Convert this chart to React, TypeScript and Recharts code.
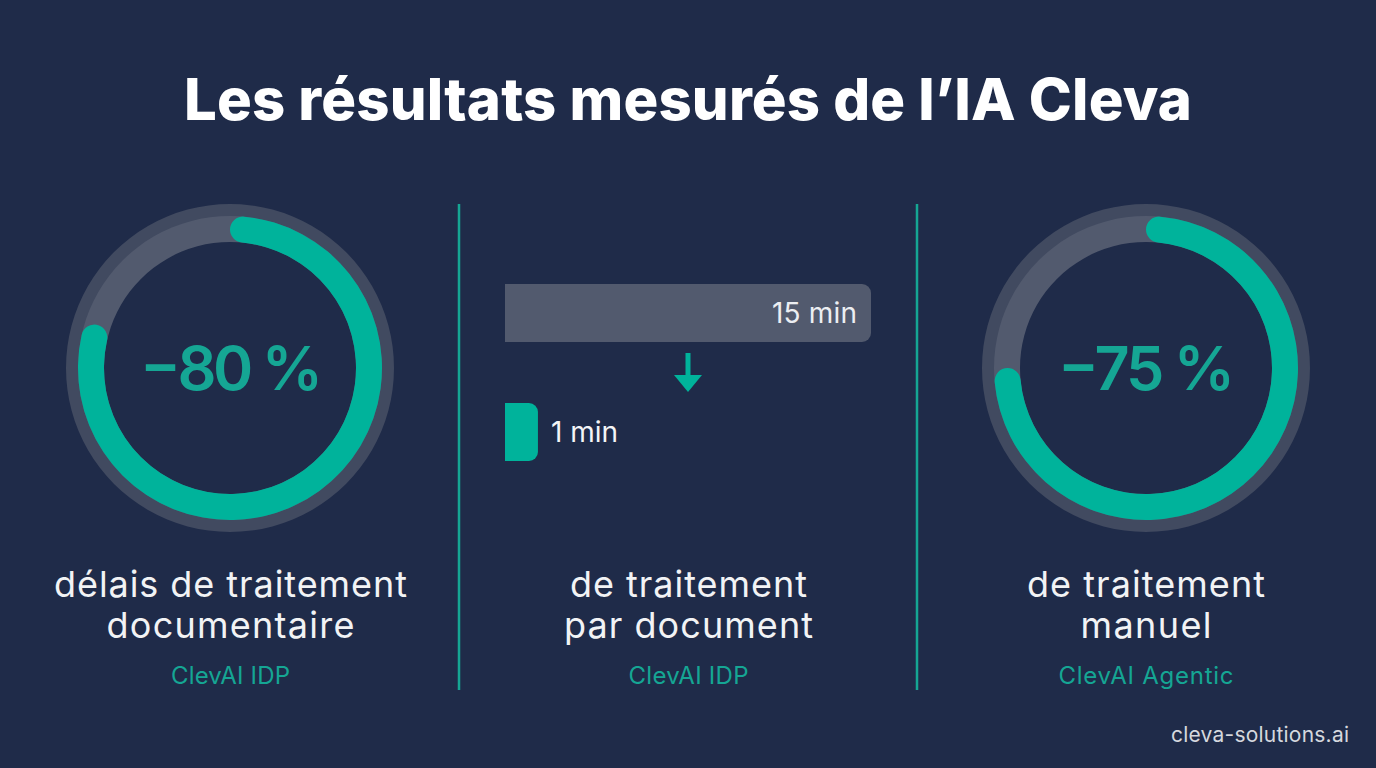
import React from "react";
import { PieChart, Pie, Cell, BarChart, Bar, XAxis, YAxis, LabelList } from "recharts";

const titleText = "Les résultats mesurés de l’IA Cleva";
const footerText = "cleva-solutions.ai";

const gaugeOneValues = [80, 20];
const gaugeTwoValues = [75, 25];
const wholeRing = [100];
const gaugeOneLabel = "−80 %";
const gaugeTwoLabel = "−75 %";

const barCategories = ["Avant", "Après"];
// Bar lengths as drawn in the picture (the picture's small bar is wider than a strict 1/15).
const barLengths = [15, 1.35];
const barLabels = ["15 min", "1 min"];

const captionsOne = ["délais de traitement", "documentaire"];
const captionsTwo = ["de traitement", "par document"];
const captionsThree = ["de traitement", "manuel"];
const productNames = ["ClevAI IDP", "ClevAI IDP", "ClevAI Agentic"];

const barRows = barCategories.map((name, i) => ({ name, length: barLengths[i], label: barLabels[i] }));

const BG = "#1f2b49";
const GREEN = "#00b39b";
const TEAL_TEXT = "#15a694";
const TRACK = "#525a6e";
const HALO = "#414a60";
const SANS = "Inter, 'Noto Sans', sans-serif";

function Gauge({ left, values }: { left: number; values: number[] }) {
  return (
    <div style={{ position: "absolute", left, top: 198 }}>
      <PieChart width={340} height={340} margin={{ top: 0, right: 0, bottom: 0, left: 0 }}>
        <Pie data={wholeRing.map((v) => ({ v }))} dataKey="v" cx={170} cy={170} innerRadius={151} outerRadius={164}
          startAngle={90} endAngle={-270} fill={HALO} stroke="none" isAnimationActive={false} />
        <Pie data={wholeRing.map((v) => ({ v }))} dataKey="v" cx={170} cy={170} innerRadius={126} outerRadius={152}
          startAngle={90} endAngle={-270} fill={TRACK} stroke="none" isAnimationActive={false} />
        <Pie data={values.map((v) => ({ v }))} dataKey="v" cx={170} cy={170} innerRadius={126} outerRadius={152}
          startAngle={90} endAngle={-270} cornerRadius={13} stroke="none" isAnimationActive={false}>
          {values.map((_, i) => (
            <Cell key={i} fill={i === 0 ? GREEN : "transparent"} stroke="none" />
          ))}
        </Pie>
      </PieChart>
    </div>
  );
}

function BarLabel(props: any) {
  const { x, y, width, height, value, index } = props;
  const inside = index === 0;
  return (
    <text
      x={inside ? x + width - 14 : x + width + 13}
      y={y + height / 2 + 10}
      textAnchor={inside ? "end" : "start"}
      fontFamily={SANS}
      fontWeight={400}
      fontSize={28}
      textLength={inside ? 85 : 67}
      fill={inside ? "#eceef2" : "#f4f5f7"}
    >
      {value}
    </text>
  );
}

function Caption({ cx, lines, product, widths }: { cx: number; lines: string[]; product: string; widths: number[] }) {
  return (
    <g textAnchor="middle">
      <text x={cx} y={597} fontFamily={SANS} fontWeight={400} fontSize={36} textLength={widths[0]} fill="#f2f3f5">{lines[0]}</text>
      <text x={cx} y={638} fontFamily={SANS} fontWeight={400} fontSize={36} textLength={widths[1]} fill="#f2f3f5">{lines[1]}</text>
      <text x={cx} y={684} fontFamily={SANS} fontWeight={400} fontSize={24} textLength={widths[2]} fill={TEAL_TEXT}>{product}</text>
    </g>
  );
}

export default function App() {
  return (
    <div style={{ position: "absolute", left: 0, top: 0, width: 1376, height: 768, background: BG, overflow: "hidden" }}>
      <Gauge left={60} values={gaugeOneValues} />
      <Gauge left={976} values={gaugeTwoValues} />

      <div style={{ position: "absolute", left: 505, top: 253 }}>
        <BarChart width={366} height={238} layout="vertical" data={barRows}
          margin={{ top: 0, right: 0, bottom: 0, left: 0 }} barSize={58}>
          <XAxis type="number" hide domain={[0, 15]} />
          <YAxis type="category" dataKey="name" hide />
          <Bar dataKey="length" isAnimationActive={false} radius={[0, 9, 9, 0]}>
            {barRows.map((_, i) => (
              <Cell key={i} fill={i === 0 ? TRACK : GREEN} />
            ))}
            <LabelList dataKey="label" content={<BarLabel />} />
          </Bar>
        </BarChart>
      </div>

      <svg width={1376} height={768} style={{ position: "absolute", left: 0, top: 0, pointerEvents: "none" }}>
        <text x={688} y={120} textAnchor="middle" fontFamily={SANS} fontWeight={800} fontSize={58} textLength={1008} fill="#ffffff">
          {titleText}
        </text>

        <line x1={459} y1={204} x2={459} y2={690} stroke={TEAL_TEXT} strokeWidth={2.5} />
        <line x1={917} y1={204} x2={917} y2={690} stroke={TEAL_TEXT} strokeWidth={2.5} />

        <line x1={688} y1={353} x2={688} y2={378} stroke={GREEN} strokeWidth={5} />
        <path d="M674 375 L702 375 L688 392 Z" fill={GREEN} />

        <text x={231.5} y={390} textAnchor="middle" fontFamily={SANS} fontWeight={600} fontSize={61} textLength={183} fill={TEAL_TEXT}>
          {gaugeOneLabel}
        </text>
        <text x={1146.5} y={390} textAnchor="middle" fontFamily={SANS} fontWeight={600} fontSize={61} textLength={177} fill={TEAL_TEXT}>
          {gaugeTwoLabel}
        </text>

        <Caption cx={230.5} lines={captionsOne} product={productNames[0]} widths={[353, 248, 119]} />
        <Caption cx={688.5} lines={captionsTwo} product={productNames[1]} widths={[237, 249, 120]} />
        <Caption cx={1146} lines={captionsThree} product={productNames[2]} widths={[238, 131, 175]} />

        <text x={1349} y={742} textAnchor="end" fontFamily={SANS} fontWeight={400} fontSize={21} textLength={178} fill="#d5d8de">{footerText}</text>
      </svg>
    </div>
  );
}
